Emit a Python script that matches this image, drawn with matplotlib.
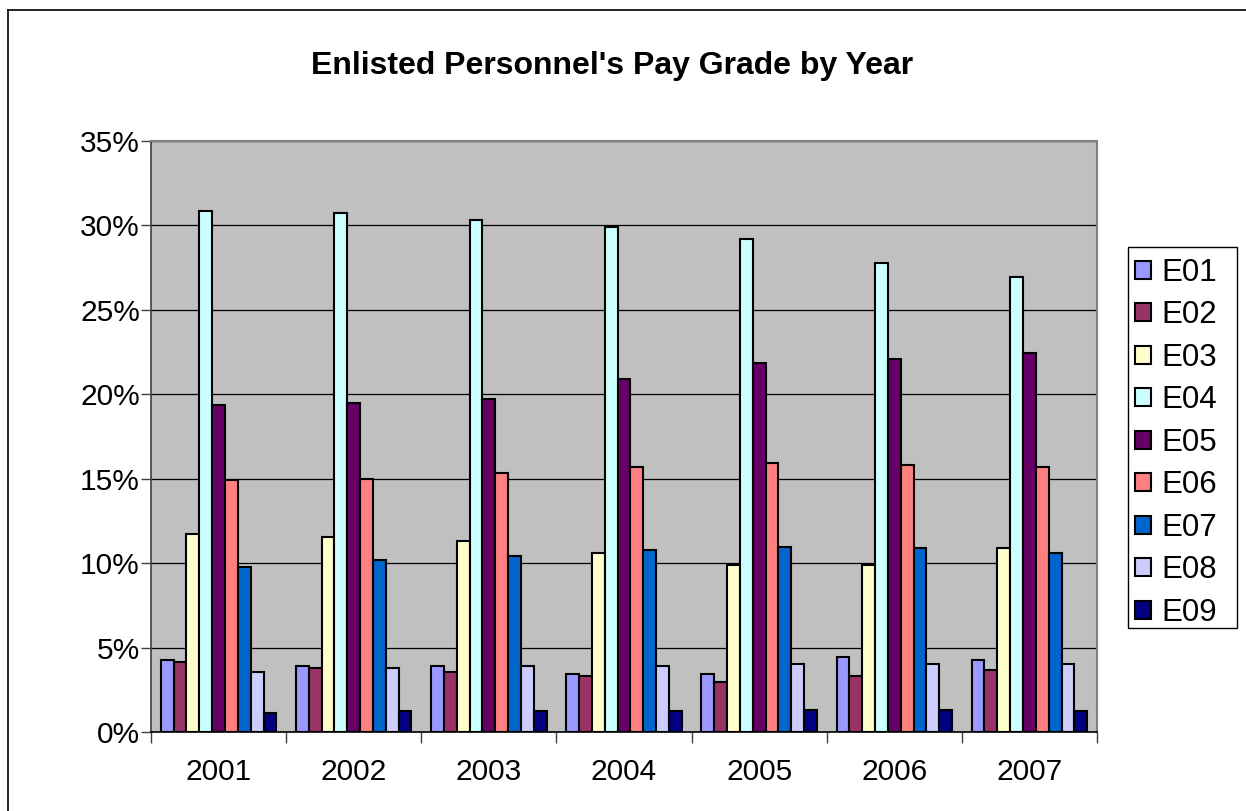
import matplotlib
matplotlib.use("Agg")
import matplotlib.pyplot as plt
import numpy as np
from matplotlib.ticker import FuncFormatter, FixedLocator
from matplotlib.lines import Line2D
from matplotlib.patches import Rectangle

years = ["2001", "2002", "2003", "2004", "2005", "2006", "2007"]
grades = ["E01", "E02", "E03", "E04", "E05", "E06", "E07", "E08", "E09"]

# percent of enlisted personnel, per grade, one value per year
e01 = [4.26, 3.89, 3.89, 3.42, 3.42, 4.47, 4.24]
e02 = [4.12, 3.77, 3.54, 3.30, 2.95, 3.30, 3.65]
e03 = [11.71, 11.57, 11.33, 10.63, 9.91, 9.91, 10.87]
e04 = [30.84, 30.73, 30.35, 29.90, 29.18, 27.75, 26.93]
e05 = [19.39, 19.49, 19.72, 20.91, 21.85, 22.11, 22.46]
e06 = [14.90, 14.99, 15.34, 15.69, 15.93, 15.81, 15.69]
e07 = [9.79, 10.16, 10.40, 10.75, 10.98, 10.87, 10.63]
e08 = [3.56, 3.77, 3.89, 3.89, 4.00, 4.00, 4.00]
e09 = [1.10, 1.22, 1.22, 1.22, 1.31, 1.31, 1.22]
series = [e01, e02, e03, e04, e05, e06, e07, e08, e09]

colors = ["#9999FF", "#993366", "#FFFFCC", "#CCFFFF", "#660066",
          "#FF8080", "#0066CC", "#CCCCFF", "#000080"]

plt.rcParams["font.family"] = ["Liberation Sans", "DejaVu Sans"]

W, H = 1246, 811
fig = plt.figure(figsize=(W / 100, H / 100), dpi=100)
ax = fig.add_axes([151 / W, 1 - 732 / H, (1097 - 151) / W, (732 - 141) / H])
ax.set_facecolor("#C0C0C0")

x = np.arange(len(years))
width = 0.095
for i, (vals, c, name) in enumerate(zip(series, colors, grades)):
    off = (i - 4) * width
    ax.bar(x + off, vals, width, color=c, edgecolor="black", linewidth=1.5,
           label=name, zorder=3)

ax.set_xlim(-0.5, len(years) - 0.5)
ax.set_ylim(0, 35)
ax.set_yticks(np.arange(0, 36, 5))
ax.yaxis.set_major_formatter(FuncFormatter(lambda v, p: f"{v:.0f}%"))
ax.yaxis.grid(True, color="black", linewidth=0.9, zorder=1)
ax.set_axisbelow(True)

ax.set_xticks(x)
ax.set_xticklabels(years)
ax.xaxis.set_minor_locator(FixedLocator(np.arange(-0.5, len(years), 1.0)))
ax.tick_params(axis="x", which="major", length=0, pad=19, labelsize=21.5)
ax.tick_params(axis="x", which="minor", length=8, width=1, color="#404040", direction="out")
ax.tick_params(axis="y", length=7, width=1, color="#404040", labelsize=21.5, pad=1)

for side in ["top", "right"]:
    ax.spines[side].set_color("#808080")
    ax.spines[side].set_linewidth(1.5)
ax.spines["left"].set_color("#404040")
ax.spines["left"].set_linewidth(1.2)
ax.spines["bottom"].set_color("black")
ax.spines["bottom"].set_linewidth(1.2)

fig.text(612 / W, 1 - 66 / H, "Enlisted Personnel's Pay Grade by Year",
         ha="center", va="center", fontsize=23, fontweight="bold")

# legend entries without frame, box drawn separately to match Excel sizing
leg = ax.legend(loc="upper left", bbox_to_anchor=(1135 / W, 1 - 258 / H),
                bbox_transform=fig.transFigure, fontsize=22.5, frameon=False,
                borderpad=0, labelspacing=0.40, handlelength=0.5,
                handleheight=0.5, handletextpad=0.35, borderaxespad=0)
fig.add_artist(Rectangle((1128 / W, 1 - 628 / H), (1237 - 1128) / W, (628 - 247) / H,
                         transform=fig.transFigure, fill=False,
                         edgecolor="black", linewidth=1.0))

# outer chart border (left and top visible)
fig.add_artist(Line2D([8 / W, 8 / W], [0, 1 - 10 / H],
                      transform=fig.transFigure, color="black", linewidth=1.2))
fig.add_artist(Line2D([8 / W, 1], [1 - 10 / H, 1 - 10 / H],
                      transform=fig.transFigure, color="black", linewidth=1.2))

fig.savefig("out.png", dpi=100)
